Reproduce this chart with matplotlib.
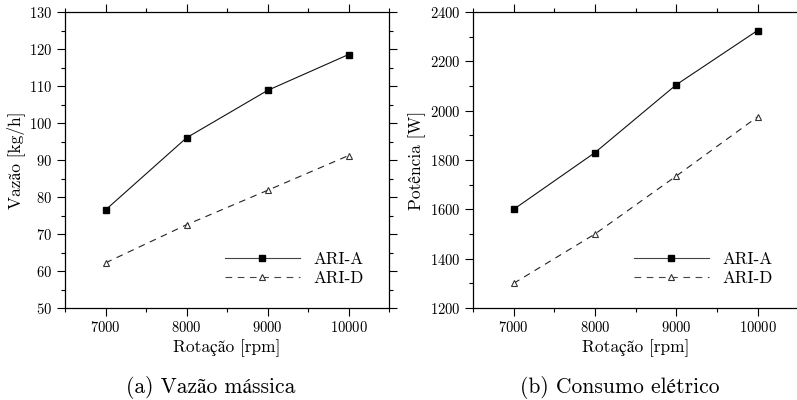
import matplotlib.pyplot as plt
from matplotlib.ticker import MultipleLocator

plt.rcParams['font.family'] = ['cmr10', 'STIXGeneral']
plt.rcParams['mathtext.fontset'] = 'cm'
plt.rcParams['axes.formatter.use_mathtext'] = True

# Data
rotacao = [7000, 8000, 9000, 10000]
vazao_a = [76.5, 96.0, 108.8, 118.5]
vazao_d = [62.2, 72.5, 81.8, 91.2]
potencia_a = [1600, 1830, 2105, 2325]
potencia_d = [1300, 1500, 1735, 1975]

fig = plt.figure(figsize=(7.97, 4.0), dpi=100)
ax1 = fig.add_axes([0.0816, 0.23, 0.4065, 0.74])
ax2 = fig.add_axes([0.5935, 0.23, 0.408, 0.74])


def style(ax, ya, yd, ylim, ymaj, ymin, ylabel):
    ax.plot(rotacao, ya, color='#111111', lw=0.8, marker='s', ms=4,
            mfc='black', mec='black', label='ARI-A')
    ax.plot(rotacao, yd, color='#222222', lw=0.8, ls=(0, (6, 5)), marker='^', ms=4,
            mfc='white', mec='#333333', mew=0.8, label='ARI-D')
    ax.set_xlim(6500, 10500)
    ax.set_ylim(*ylim)
    ax.xaxis.set_major_locator(MultipleLocator(1000))
    ax.xaxis.set_minor_locator(MultipleLocator(500))
    ax.yaxis.set_major_locator(MultipleLocator(ymaj))
    ax.yaxis.set_minor_locator(MultipleLocator(ymin))
    ax.tick_params(which='both', direction='out', top=True, right=True,
                   labelsize=10.5, width=0.8, pad=3)
    ax.tick_params(which='major', length=6)
    ax.tick_params(which='minor', length=3)
    for s in ax.spines.values():
        s.set_linewidth(0.9)
    ax.set_xlabel('Rotação [rpm]', fontsize=12.5, labelpad=3)
    ax.set_ylabel(ylabel, fontsize=12.5, labelpad=3)
    leg = ax.legend(loc='lower right', frameon=False, handlelength=4.4,
                    fontsize=12.3, bbox_to_anchor=(0.97, 0.022), handletextpad=0.8,
                    labelspacing=0.25)
    for h in leg.get_lines():
        h.set_color('#444444')


style(ax1, vazao_a, vazao_d, (50, 130), 10, 5, 'Vazão [kg/h]')
style(ax2, potencia_a, potencia_d, (1200, 2400), 200, 100, 'Potência [W]')

fig.text(0.264, 0.018, '(a) Vazão mássica', ha='center', fontsize=15.5)
fig.text(0.778, 0.018, '(b) Consumo elétrico', ha='center', fontsize=15.5)

plt.savefig('out.png', dpi=100)
